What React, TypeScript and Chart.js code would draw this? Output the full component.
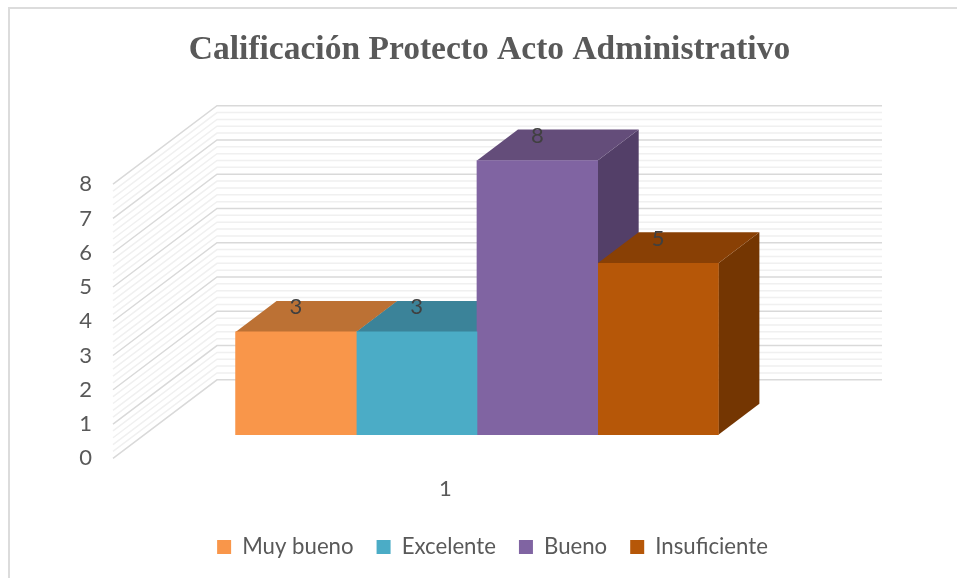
import React, { useEffect, useRef } from "react";
import { Chart, registerables } from "chart.js";

Chart.register(...registerables);

const titleText = "Calificación Protecto Acto Administrativo";
const categories = ["1"];
const seriesNames = ["Muy bueno", "Excelente", "Bueno", "Insuficiente"];
const seriesValues = [3, 3, 8, 5];
const frontColors = ["#F9964A", "#4BACC6", "#8064A2", "#B65708"];
const topColors = ["#BC7134", "#3B8399", "#644D7A", "#894005"];
const sideColors = ["#BC7134", "#3B8399", "#533F68", "#743602"];

const TEXT = "#595959";
const wallDepth = { x: 104, y: -78.5 };
const barDepth = { x: 41, y: -31 };
const barShift = { x: 39.35, y: -23.7 };
const wallMinorSteps = 5;
const legendShift = 3;

const threeD = {
  id: "threeD",
  afterLayout(chart: any) {
    chart.legend.left += legendShift;
    chart.legend.right += legendShift;
  },
  beforeDatasetsDraw(chart: any) {
    const { ctx } = chart;
    const y = chart.scales.y;
    const xL = chart.chartArea.left;
    const xR = chart.chartArea.right;
    ctx.save();
    for (let pass = 0; pass < 2; pass++) {
      for (let i = 0; i <= y.max * wallMinorSteps; i++) {
        const major = i % wallMinorSteps === 0;
        if (major !== (pass === 1)) continue;
        const py = y.getPixelForValue(i / wallMinorSteps);
        ctx.beginPath();
        ctx.moveTo(xL, py);
        ctx.lineTo(xL + wallDepth.x, py + wallDepth.y);
        ctx.lineTo(xR + wallDepth.x, py + wallDepth.y);
        ctx.strokeStyle = major ? "#D9D9D9" : "#F0F0F0";
        ctx.lineWidth = 1.5;
        ctx.stroke();
      }
    }
    const poly = (pts: number[][], color: string) => {
      ctx.beginPath();
      pts.forEach((p, k) => (k ? ctx.lineTo(p[0], p[1]) : ctx.moveTo(p[0], p[1])));
      ctx.closePath();
      ctx.fillStyle = color;
      ctx.fill();
    };
    seriesValues.forEach((_, i) => {
      const bar = chart.getDatasetMeta(i).data[0];
      const l = bar.x - bar.width / 2;
      const r = bar.x + bar.width / 2;
      const t = bar.y;
      const b = bar.base;
      const d = barDepth;
      poly([[r, t], [r + d.x, t + d.y], [r + d.x, b + d.y], [r, b]], sideColors[i]);
      poly([[l, t], [r, t], [r + d.x, t + d.y], [l + d.x, t + d.y]], topColors[i]);
    });
    ctx.restore();
  },
  afterDatasetsDraw(chart: any) {
    const { ctx } = chart;
    ctx.save();
    ctx.font = "22px Lato";
    ctx.fillStyle = "#404040";
    ctx.textAlign = "center";
    ctx.textBaseline = "middle";
    seriesValues.forEach((v, i) => {
      const bar = chart.getDatasetMeta(i).data[0];
      ctx.fillText(String(v), bar.x, bar.y - 24.5);
    });
    ctx.restore();
  },
};

export default function App() {
  const ref = useRef<HTMLCanvasElement>(null);
  useEffect(() => {
    const chart = new Chart(ref.current!, {
      type: "bar",
      data: {
        labels: categories,
        datasets: seriesNames.map((name, i) => ({
          label: name,
          data: [{ x: 1, y: seriesValues[i] }],
          backgroundColor: frontColors[i],
          borderWidth: 0,
          xAxisID: "xBars",
          yAxisID: "yBars",
          clip: false as any,
          barThickness: 120.7,
        })),
      },
      plugins: [threeD],
      options: {
        animation: false,
        responsive: false,
        layout: { padding: { left: 22, right: 0, top: 0, bottom: 10 } },
        scales: {
          x: {
            type: "category",
            labels: categories,
            position: "bottom",
            grid: { display: false },
            border: { display: false },
            ticks: { color: TEXT, font: { family: "Lato", size: 22 }, padding: 9 },
            afterFit: (s: any) => { s.height = 54.5; },
          },
          xBars: {
            type: "linear",
            display: false,
            min: 0.5 - barShift.x / 665,
            max: 1.5 - barShift.x / 665,
          },
          y: {
            type: "linear",
            position: "left",
            min: 0,
            max: 8,
            grid: { display: false },
            border: { display: false },
            ticks: { stepSize: 1, color: TEXT, font: { family: "Lato", size: 22 }, padding: 13 },
            afterFit: (s: any) => { s.width = 113 - 22; },
          },
          yBars: {
            type: "linear",
            position: "right",
            min: barShift.y / 34.375,
            max: 8 + barShift.y / 34.375,
            grid: { display: false },
            border: { display: false },
            ticks: { display: false },
            afterFit: (s: any) => { s.width = 179; },
          },
        },
        plugins: {
          tooltip: { enabled: false },
          title: {
            display: true,
            text: titleText,
            color: TEXT,
            font: { family: "Liberation Serif", size: 33.5, weight: "bold" },
            padding: { top: 30, bottom: 114 },
          },
          legend: {
            position: "bottom",
            labels: {
              color: TEXT,
              font: { family: "Lato", size: 22.2 },
              boxWidth: 14,
              boxHeight: 14,
              padding: 23,
            },
          },
        },
      },
    } as any);
    return () => chart.destroy();
  }, []);
  return (
    <div style={{ position: "fixed", left: 0, top: 0, width: 957, height: 578, background: "#fff", overflow: "hidden" }}>
      <canvas ref={ref} width={957} height={578} style={{ display: "block" }} />
      <div style={{ position: "absolute", left: 8, top: 7, right: -10, bottom: -10, borderTop: "2px solid #DCDCDC", borderLeft: "2px solid #DCDCDC", pointerEvents: "none" }} />
    </div>
  );
}
